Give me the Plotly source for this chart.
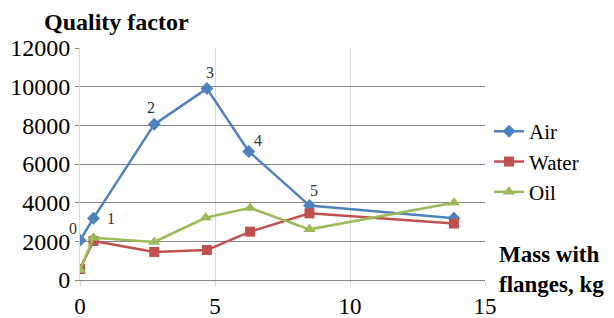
import plotly.graph_objects as go

mass_air = [0, 0.5, 2.75, 4.7, 6.25, 8.5, 13.85]
q_air = [2050, 3200, 8050, 9900, 6650, 3850, 3200]
mass_water = [0, 0.5, 2.75, 4.7, 6.3, 8.5, 13.85]
q_water = [570, 2020, 1450, 1550, 2500, 3450, 2920]
mass_oil = [0, 0.5, 2.75, 4.65, 6.3, 8.5, 13.85]
q_oil = [520, 2180, 1970, 3220, 3730, 2620, 4000]
point_labels = ["0", "1", "2", "3", "4", "5"]
label_shift = [(-7, 12), (17, 0), (-3, 17), (3, 16), (9, 11), (4, 15)]
y_ticks = [0, 2000, 4000, 6000, 8000, 10000, 12000]
y_tick_text = ["0", "2000", "4000", "6000", "8000", "10000", "12000"]
x_ticks = [0, 5, 10, 15]
x_tick_text = ["0", "5", "10", "15"]

serif = "Liberation Serif"

fig = go.Figure()
fig.add_trace(go.Scatter(x=mass_air, y=q_air, mode="lines+markers", name="Air",
                         line=dict(color="#4F81BD", width=2.5),
                         marker=dict(symbol="diamond", size=10, color="#4F81BD")))
fig.add_trace(go.Scatter(x=mass_water, y=q_water, mode="lines+markers", name="Water",
                         line=dict(color="#C0504D", width=2.5),
                         marker=dict(symbol="square", size=10, color="#C0504D")))
fig.add_trace(go.Scatter(x=mass_oil, y=q_oil, mode="lines+markers", name="Oil",
                         line=dict(color="#9BBB59", width=2.5),
                         marker=dict(symbol="triangle-up", size=11, color="#9BBB59")))

annotations = []
for i, lab in enumerate(point_labels):
    dx, dy = label_shift[i]
    annotations.append(dict(x=mass_air[i], y=q_air[i], xref="x", yref="y", text=lab,
                            showarrow=False, xshift=dx, yshift=dy,
                            font=dict(family=serif, size=16, color="#333333")))
annotations.append(dict(x=-0.094, y=1.112, xref="paper", yref="paper", text="<b>Quality factor</b>",
                        showarrow=False, xanchor="left", yanchor="middle",
                        font=dict(family=serif, size=24, color="black")))
annotations.append(dict(x=1.03, y=0.047, xref="paper", yref="paper",
                        text="<b>Mass with<br>flanges, kg</b>", align="left",
                        showarrow=False, xanchor="left", yanchor="middle",
                        font=dict(family=serif, size=23, color="black")))

fig.update_layout(
    width=606, height=310,
    margin=dict(l=72, r=129, t=40, b=38),
    paper_bgcolor="white", plot_bgcolor="white",
    font=dict(family=serif, size=22, color="black"),
    showlegend=True,
    legend=dict(x=1.01, y=0.728, xanchor="left", yanchor="top",
                font=dict(family=serif, size=21, color="black"),
                bgcolor="rgba(0,0,0,0)", itemwidth=30, tracegroupgap=0),
    annotations=annotations,
)
fig.update_xaxes(range=[0, 15], tickmode="array", tickvals=x_ticks, ticktext=x_tick_text,
                 showgrid=True, automargin=False,
                 gridcolor="#D9D9D9", gridwidth=1, zeroline=False,
                 showline=True, linecolor="#868686", linewidth=1,
                 ticks="outside", ticklen=5, tickcolor="#D9D9D9",
                 tickfont=dict(family=serif, size=23, color="black"))
fig.update_yaxes(range=[0, 12000], tickmode="array", tickvals=y_ticks, ticktext=y_tick_text,
                 showgrid=True, automargin=False, gridcolor="#868686", gridwidth=1, zeroline=False,
                 showline=True, linecolor="#D9D9D9", linewidth=1,
                 ticks="outside", ticklen=4, tickcolor="#868686",
                 tickfont=dict(family=serif, size=24, color="black"))

fig.write_html("out.html")
